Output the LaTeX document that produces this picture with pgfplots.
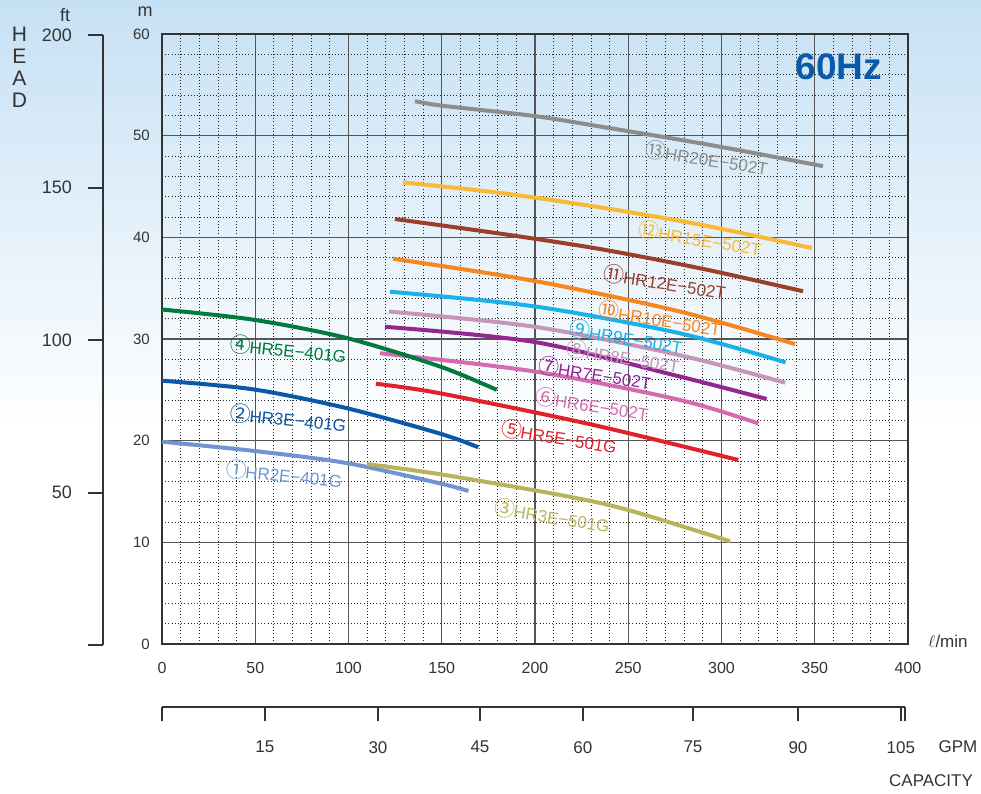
\documentclass[border=0pt]{standalone}
\usepackage{pgfplots}
\pgfplotsset{compat=1.18}
\usepackage{fontspec}
\setmainfont{Liberation Sans}
\newfontfamily\circfont{Noto Sans CJK SC}
\definecolor{sky}{HTML}{C6E1F4}
\definecolor{axc}{HTML}{333333}
\definecolor{txt}{HTML}{333333}
\definecolor{gridc}{HTML}{555555}
\definecolor{hzblue}{HTML}{0A5AAA}
\definecolor{c1}{HTML}{6F95D0}
\definecolor{c2}{HTML}{0B57A8}
\definecolor{c3}{HTML}{B8B45C}
\definecolor{c4}{HTML}{007A3D}
\definecolor{c5}{HTML}{E2222A}
\definecolor{c6}{HTML}{D46BAE}
\definecolor{c7}{HTML}{93278F}
\definecolor{c8}{HTML}{C596B8}
\definecolor{c9}{HTML}{1AB0EA}
\definecolor{c10}{HTML}{F6861F}
\definecolor{c11}{HTML}{9A3F2C}
\definecolor{c12}{HTML}{F9B935}
\definecolor{c13}{HTML}{8C8C8C}
\newcommand{\lab}[2]{{\circfont\fontsize{21}{21}\selectfont #1}\kern-1pt#2}
\begin{document}
\begin{tikzpicture}
\useasboundingbox (0pt,0pt) rectangle (981pt,-793pt);
\fill[top color=sky, bottom color=white] (0pt,0pt) rectangle (981pt,-430pt);
\fill[white] (0pt,-430pt) rectangle (981pt,-793pt);
% main axis
\begin{axis}[at={(162pt,-644pt)}, anchor=south west, scale only axis,
  width=746pt, height=610pt,
  xmin=0, xmax=400, ymin=0, ymax=60,
  xtick={0,50,...,400}, ytick={0,10,...,60},
  minor xtick={10,20,30,40,60,70,80,90,110,120,130,140,160,170,180,190,210,220,230,240,260,270,280,290,310,320,330,340,360,370,380,390},
  minor ytick={2,4,6,8,12,14,16,18,22,24,26,28,32,34,36,38,42,44,46,48,52,54,56,58},
  grid=both,
  major grid style={line width=1.2pt, color=gridc},
  minor grid style={line width=0.9pt, color=black!85, dash pattern=on 1pt off 2.2pt},
  major tick length=0pt, minor tick length=0pt,
  axis line style={line width=2.4pt, color=axc},
  /pgf/number format/assume math mode=true,
  xticklabel style={font=\fontsize{16}{16}\selectfont, text=txt, inner sep=0pt, anchor=north, yshift=-18pt},
  yticklabel style={font=\fontsize{15}{15}\selectfont, text=txt, inner sep=0pt, anchor=east, xshift=-12pt},
  every axis plot/.append style={line width=4pt, smooth},
  clip=false,
]
\addplot[c13] coordinates {(135.7,53.4) (150,52.95) (199,51.95) (234.9,50.9) (295,49.05) (354.4,47.0)};
\addplot[c12] coordinates {(129.2,45.4) (180,44.4) (234.9,42.95) (290,41.2) (348.5,38.95)};
\addplot[c11] coordinates {(124.9,41.8) (180,40.4) (234.9,38.85) (290,36.9) (343.7,34.7)};
\addplot[c10] coordinates {(123.9,37.9) (200,35.7) (277.8,32.7) (339.4,29.5)};
\addplot[c9] coordinates {(122.3,34.65) (200,33.2) (277.8,30.56) (334.4,27.7)};
\addplot[c8] coordinates {(121.7,32.7) (200,31.2) (277.8,28.4) (334.1,25.7)};
\addplot[c7] coordinates {(119.6,31.2) (200,29.7) (277.8,26.3) (324.2,24.1)};
\addplot[c6] coordinates {(116.9,28.6) (200,26.8) (277.8,24.0) (319.7,21.7)};
\addplot[c5] coordinates {(114.7,25.6) (149.1,24.66) (230,21.6) (309,18.1)};
\addplot[c4] coordinates {(0,32.9) (48.9,31.9) (99,30.1) (149,27.3) (179.5,25.0)};
\addplot[c2] coordinates {(0,25.9) (48.9,25.05) (99,23.2) (149,20.7) (169.6,19.35)};
\addplot[c1] coordinates {(0,19.9) (48.9,19.0) (99,17.8) (149,15.8) (164.3,15.05)};
\addplot[c3] coordinates {(109.8,17.7) (149.1,16.7) (213.4,14.66) (249.2,13.22) (304.6,10.1)};
\begin{scope}[every node/.style={font=\fontsize{17}{17}\selectfont, inner sep=0pt}]
\node[rotate=-9, text=c13] at (axis cs:292.2,47.8) {\lab{⑬}{HR20E−502T}};
\node[rotate=-9, text=c12] at (axis cs:288.5,39.9) {\lab{⑫}{HR15E−502T}};
\node[rotate=-9, text=c11] at (axis cs:269.7,35.6) {\lab{⑪}{HR12E−502T}};
\node[rotate=-9, text=c10] at (axis cs:267,32.0) {\lab{⑩}{HR10E−502T}};
\node[rotate=-9, text=c9] at (axis cs:248.8,30.2) {\lab{⑨}{HR9E−502T}};
\node[rotate=-9, text=c8] at (axis cs:247.2,28.3) {\lab{⑧}{HR8E−502T}};
\node[rotate=-9, text=c7] at (axis cs:232.2,26.65) {\lab{⑦}{HR7E−502T}};
\node[rotate=-9, text=c6] at (axis cs:230.6,23.6) {\lab{⑥}{HR6E−502T}};
\node[rotate=-9, text=c5] at (axis cs:212.9,20.4) {\lab{⑤}{HR5E−501G}};
\node[rotate=-9, text=c3] at (axis cs:209.1,12.6) {\lab{③}{HR3E−501G}};
\node[rotate=-6, text=c4] at (axis cs:67.6,29.0) {\lab{④}{HR5E−401G}};
\node[rotate=-6, text=c2] at (axis cs:67.6,22.2) {\lab{②}{HR3E−401G}};
\node[rotate=-6, text=c1] at (axis cs:65.4,16.7) {\lab{①}{HR2E−401G}};
\end{scope}
\end{axis}
% ft axis
\begin{axis}[at={(103pt,-645pt)}, anchor=south west, scale only axis,
  width=10pt, height=610pt, xmin=0, xmax=1, ymin=0, ymax=200,
  axis y line=left, axis x line=none,
  axis line style={-, line width=2pt, color=axc},
  ytick={0,50,100,150,200}, yticklabels={,50,100,150,200},
  tick align=outside, major tick length=15pt,
  tick style={line width=2pt, color=axc},
  /pgf/number format/assume math mode=true,
  yticklabel style={font=\fontsize{18}{18}\selectfont, text=txt, inner sep=0pt, anchor=east, xshift=-16pt},
]
\addplot[draw=none] coordinates {(0,0)};
\end{axis}
% GPM axis
\begin{axis}[at={(162pt,-707pt)}, anchor=south west, scale only axis,
  width=743pt, height=20pt, xmin=0, xmax=398.4, ymin=0, ymax=1,
  axis x line=bottom, axis y line=none,
  axis line style={-, line width=2pt, color=axc},
  xtick={0,55.2,115.8,170.5,225.7,284.7,341.0,396.2,398.4},
  xticklabels={,15,30,45,60,75,90,105,},
  tick align=outside, major tick length=14pt,
  tick style={line width=2pt, color=axc},
  /pgf/number format/assume math mode=true,
  xticklabel style={font=\fontsize{17}{17}\selectfont, text=txt, inner sep=0pt, anchor=north, yshift=-20pt},
]
\addplot[draw=none] coordinates {(0,0)};
\end{axis}
\node[font=\fontsize{17}{17}\selectfont, text=txt] at (948pt,-641pt) {$\ell$/min};
\node[font=\fontsize{17}{17}\selectfont, text=txt] at (958pt,-747pt) {GPM};
\node[font=\fontsize{17}{17}\selectfont, text=txt] at (931pt,-781pt) {CAPACITY};
\node[font=\fontsize{18}{18}\selectfont, text=txt] at (65pt,-15pt) {ft};
\node[font=\fontsize{18}{18}\selectfont, text=txt] at (145pt,-12pt) {m};
\node[font=\fontsize{21}{22}\selectfont, text=txt, align=center, inner sep=0pt] at (19.5pt,-67pt) {H\\E\\A\\D};
\node[font=\bfseries\fontsize{37}{37}\selectfont, text=hzblue] at (839pt,-67pt) {60Hz};
\end{tikzpicture}
\end{document}
